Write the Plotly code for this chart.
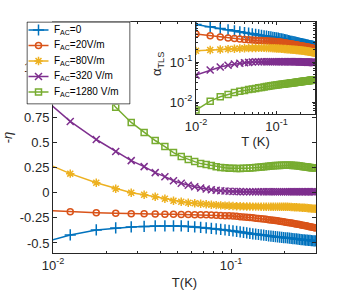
import plotly.graph_objects as go

# ---------------- data ----------------
T_main = [0.0075, 0.0125, 0.0175, 0.0225, 0.0275, 0.0325, 0.0375, 0.0425, 0.0475, 0.0525,
          0.0575, 0.0625, 0.0675, 0.0725, 0.0775, 0.0825, 0.0875, 0.0925, 0.0975, 0.1025,
          0.1075, 0.1125, 0.1175, 0.1225, 0.1275, 0.1325, 0.1375, 0.1425, 0.1475, 0.1525,
          0.1575, 0.1625, 0.1675, 0.1725, 0.1775, 0.1825, 0.1875, 0.1925, 0.1975, 0.2025,
          0.2075, 0.2125, 0.2175, 0.2225, 0.2275, 0.2325, 0.2375, 0.2425, 0.2475, 0.2525,
          0.2575, 0.2625, 0.2675, 0.2725, 0.2775, 0.2825, 0.2875, 0.2925, 0.2975]

eta_F0 = [-0.53, -0.42, -0.37, -0.35, -0.34, -0.335, -0.33, -0.33, -0.33, -0.33,
          -0.335, -0.34, -0.345, -0.35, -0.355, -0.36, -0.365, -0.37, -0.375, -0.38,
          -0.385, -0.39, -0.395, -0.40, -0.405, -0.41, -0.413, -0.416, -0.42, -0.423,
          -0.426, -0.429, -0.432, -0.435, -0.437, -0.44, -0.442, -0.444, -0.446, -0.448,
          -0.45, -0.452, -0.454, -0.456, -0.458, -0.46, -0.462, -0.464, -0.466, -0.468,
          -0.47, -0.471, -0.472, -0.474, -0.475, -0.476, -0.478, -0.479, -0.48]
eta_F20 = [-0.17, -0.19, -0.20, -0.205, -0.21, -0.21, -0.212, -0.214, -0.215, -0.216,
           -0.217, -0.218, -0.219, -0.22, -0.222, -0.224, -0.226, -0.228, -0.23, -0.232,
           -0.235, -0.238, -0.241, -0.244, -0.247, -0.25, -0.253, -0.256, -0.259, -0.262,
           -0.265, -0.268, -0.271, -0.274, -0.277, -0.28, -0.283, -0.286, -0.29, -0.293,
           -0.296, -0.299, -0.302, -0.305, -0.308, -0.311, -0.314, -0.317, -0.32, -0.323,
           -0.326, -0.329, -0.332, -0.335, -0.338, -0.341, -0.344, -0.347, -0.35]
eta_F80 = [0.36, 0.19, 0.10, 0.04, 0.0, -0.02, -0.04, -0.06, -0.08, -0.09,
           -0.10, -0.105, -0.11, -0.115, -0.12, -0.123, -0.126, -0.128, -0.13, -0.132,
           -0.134, -0.135, -0.136, -0.137, -0.137, -0.138, -0.138, -0.138, -0.139, -0.139,
           -0.139, -0.139, -0.14, -0.14, -0.14, -0.14, -0.14, -0.14, -0.14, -0.14,
           -0.14, -0.141, -0.142, -0.143, -0.144, -0.145, -0.146, -0.147, -0.148, -0.149,
           -0.15, -0.151, -0.152, -0.154, -0.155, -0.157, -0.158, -0.159, -0.16]
eta_F320 = [1.05, 0.71, 0.53, 0.41, 0.32, 0.26, 0.20, 0.16, 0.12, 0.095,
            0.075, 0.06, 0.048, 0.038, 0.03, 0.025, 0.02, 0.017, 0.015, 0.013,
            0.012, 0.011, 0.01, 0.01, 0.01, 0.01, 0.01, 0.01, 0.01, 0.01,
            0.01, 0.01, 0.01, 0.01, 0.01, 0.01, 0.01, 0.01, 0.01, 0.01,
            0.01, 0.01, 0.01, 0.01, 0.01, 0.01, 0.01, 0.01, 0.01, 0.01,
            0.01, 0.01, 0.01, 0.01, 0.01, 0.01, 0.01, 0.01, 0.01]
eta_F1280 = [2.5, 1.6, 1.1, 0.85, 0.70, 0.60, 0.52, 0.46, 0.40, 0.36,
             0.33, 0.31, 0.29, 0.28, 0.27, 0.26, 0.252, 0.248, 0.245, 0.243,
             0.242, 0.242, 0.243, 0.245, 0.247, 0.25, 0.252, 0.255, 0.257, 0.26,
             0.262, 0.264, 0.266, 0.268, 0.27, 0.271, 0.272, 0.273, 0.274, 0.274,
             0.274, 0.274, 0.273, 0.272, 0.271, 0.27, 0.268, 0.266, 0.264, 0.262,
             0.26, 0.258, 0.256, 0.254, 0.252, 0.25, 0.249, 0.248, 0.247]

T_inset = [0.01, 0.015, 0.02, 0.025, 0.03, 0.035, 0.04, 0.045, 0.05, 0.055,
           0.06, 0.065, 0.07, 0.075, 0.08, 0.085, 0.09, 0.095, 0.1, 0.105,
           0.11, 0.115, 0.12, 0.125, 0.13, 0.135, 0.14, 0.145, 0.15, 0.155,
           0.16, 0.165, 0.17, 0.175, 0.18, 0.185, 0.19, 0.195, 0.2, 0.205,
           0.21, 0.215, 0.22, 0.225, 0.23, 0.235, 0.24, 0.245, 0.25, 0.255,
           0.26, 0.265, 0.27, 0.275, 0.28, 0.285, 0.29, 0.295, 0.3]

alpha_F0 = [0.87, 0.76, 0.69, 0.64, 0.60, 0.57, 0.545, 0.525, 0.505, 0.49,
            0.475, 0.463, 0.452, 0.442, 0.433, 0.424, 0.416, 0.408, 0.40, 0.393,
            0.386, 0.379, 0.372, 0.365, 0.358, 0.351, 0.344, 0.337, 0.33, 0.326,
            0.322, 0.318, 0.314, 0.31, 0.306, 0.302, 0.298, 0.294, 0.29, 0.287,
            0.284, 0.281, 0.278, 0.275, 0.272, 0.269, 0.266, 0.263, 0.26, 0.258,
            0.256, 0.254, 0.252, 0.25, 0.248, 0.246, 0.244, 0.242, 0.24]
alpha_F20 = [0.50, 0.45, 0.42, 0.40, 0.385, 0.375, 0.367, 0.36, 0.355, 0.35,
             0.347, 0.344, 0.341, 0.338, 0.335, 0.332, 0.329, 0.326, 0.323, 0.319,
             0.315, 0.311, 0.307, 0.303, 0.299, 0.295, 0.291, 0.287, 0.283, 0.28,
             0.277, 0.274, 0.271, 0.268, 0.265, 0.262, 0.259, 0.256, 0.253, 0.251,
             0.249, 0.247, 0.245, 0.243, 0.241, 0.239, 0.237, 0.235, 0.233, 0.231,
             0.229, 0.227, 0.225, 0.223, 0.221, 0.219, 0.217, 0.215, 0.213]
alpha_F80 = [0.19, 0.20, 0.205, 0.21, 0.215, 0.218, 0.22, 0.222, 0.223, 0.224,
             0.225, 0.225, 0.225, 0.224, 0.223, 0.222, 0.221, 0.22, 0.218, 0.217,
             0.216, 0.214, 0.213, 0.212, 0.211, 0.209, 0.208, 0.207, 0.205, 0.204,
             0.203, 0.202, 0.201, 0.2, 0.199, 0.198, 0.197, 0.196, 0.195, 0.194,
             0.193, 0.192, 0.19, 0.189, 0.188, 0.187, 0.186, 0.184, 0.183, 0.182,
             0.181, 0.179, 0.178, 0.177, 0.176, 0.174, 0.173, 0.172, 0.17]
alpha_F320 = [0.047, 0.063, 0.075, 0.083, 0.089, 0.093, 0.096, 0.098, 0.1, 0.101,
              0.102, 0.102, 0.102, 0.102, 0.102, 0.102, 0.102, 0.102, 0.102, 0.102,
              0.102, 0.102, 0.102, 0.102, 0.102, 0.102, 0.101, 0.101, 0.101, 0.101,
              0.101, 0.101, 0.101, 0.101, 0.101, 0.101, 0.1, 0.1, 0.1, 0.1,
              0.1, 0.1, 0.1, 0.1, 0.1, 0.1, 0.099, 0.099, 0.099, 0.099,
              0.099, 0.099, 0.099, 0.098, 0.098, 0.098, 0.098, 0.098, 0.098]
alpha_F1280 = [0.0063, 0.0105, 0.0135, 0.0155, 0.0172, 0.0185, 0.0195, 0.0204, 0.0212, 0.0219,
               0.0226, 0.0232, 0.0238, 0.0244, 0.0249, 0.0254, 0.0259, 0.0263, 0.0267, 0.027,
               0.0273, 0.0276, 0.0279, 0.0282, 0.0285, 0.0288, 0.0291, 0.0294, 0.0297, 0.03,
               0.0302, 0.0305, 0.0307, 0.031, 0.0312, 0.0315, 0.0317, 0.032, 0.0322, 0.0324,
               0.0326, 0.0328, 0.033, 0.0332, 0.0334, 0.0336, 0.0338, 0.034, 0.0342, 0.0344,
               0.0346, 0.0348, 0.035, 0.0352, 0.0354, 0.0356, 0.0358, 0.036, 0.0362]

series_names = ["F<sub>AC</sub>=0", "F<sub>AC</sub>=20V/m", "F<sub>AC</sub>=80V/m",
                "F<sub>AC</sub>=320 V/m", "F<sub>AC</sub>=1280 V/m"]
main_values = [eta_F0, eta_F20, eta_F80, eta_F320, eta_F1280]
inset_values = [alpha_F0, alpha_F20, alpha_F80, alpha_F320, alpha_F1280]

main_yticks = [-0.5, -0.25, 0, 0.25, 0.5, 0.75, 1, 1.25, 1.5]
main_yticktext = ["-0.5", "-0.25", "0", "0.25", "0.5", "0.75", "1", "1.25", "1.5"]
log_ticks = [0.01, 0.1]
log_ticktext = ["10<sup>-2</sup>", "10<sup>-1</sup>"]
inset_yticks = [0.01, 0.1]
inset_yticktext = ["10<sup>-2</sup>", "10<sup>-1</sup>"]

# ---------------- styles / layout constants ----------------
W, H = 348, 291
colors = ["#0072BD", "#D95319", "#EDB120", "#7E2F8E", "#77AC30"]
symbols = ["cross-thin", "circle-open", "asterisk", "x-thin", "square-open"]
sizes = [8, 6, 7, 7, 6]
FONT = "Liberation Sans, Arial, Helvetica, sans-serif"
AX = "#262626"


def px_x(a, b):
    return [a / W, b / W]


def px_y(top, bottom):
    return [(H - bottom) / H, (H - top) / H]


# legend box geometry (pixel frame of the legend panel)
LEG_W, LEG_H = 103, 82
leg_rows = [8, 23.5, 39, 54.5, 70]
leg_line = [1.5, 21.5]
leg_mark = 11.5
leg_text_x = 25

fig = go.Figure()
for name, yv, c, s, sz in zip(series_names, main_values, colors, symbols, sizes):
    fig.add_trace(go.Scatter(
        x=T_main, y=yv, mode="lines+markers", name=name, showlegend=False,
        line=dict(color=c, width=1.5),
        marker=dict(symbol=s, size=sz, color=c, line=dict(color=c, width=1.5)),
        xaxis="x", yaxis="y"))
for name, yv, c, s, sz in zip(series_names, inset_values, colors, symbols, sizes):
    fig.add_trace(go.Scatter(
        x=T_inset, y=yv, mode="lines+markers", name=name, showlegend=False,
        line=dict(color=c, width=1.5),
        marker=dict(symbol=s, size=sz, color=c, line=dict(color=c, width=1.5)),
        xaxis="x2", yaxis="y2"))

# legend panel (white box with border, drawn above the main plot)
fig.add_trace(go.Scatter(
    x=[0, LEG_W, LEG_W, 0, 0], y=[0, 0, LEG_H, LEG_H, 0], mode="lines",
    fill="toself", fillcolor="white", line=dict(color=AX, width=1),
    showlegend=False, hoverinfo="skip", xaxis="x3", yaxis="y3"))
for name, c, s, sz, ry in zip(series_names, colors, symbols, sizes, leg_rows):
    fig.add_trace(go.Scatter(
        x=leg_line, y=[ry, ry], mode="lines", line=dict(color=c, width=1.5),
        showlegend=False, hoverinfo="skip", xaxis="x3", yaxis="y3"))
    fig.add_trace(go.Scatter(
        x=[leg_mark], y=[ry], mode="markers",
        marker=dict(symbol=s, size=sz, color=c, line=dict(color=c, width=1.5)),
        showlegend=False, hoverinfo="skip", xaxis="x3", yaxis="y3"))
    fig.add_annotation(x=leg_text_x, y=ry, xref="x3", yref="y3", text=name,
                       showarrow=False, xanchor="left", yanchor="middle",
                       font=dict(family=FONT, size=10, color="black"))

# inset y-axis title (placed explicitly)
fig.add_annotation(x=157 / W, y=(H - 64) / H, xref="paper", yref="paper",
                   text="α<sub>TLS</sub>", textangle=-90, showarrow=False,
                   xanchor="center", yanchor="middle",
                   font=dict(family=FONT, size=13, color=AX))

minor_main = [0.02, 0.03, 0.04, 0.05, 0.06, 0.07, 0.08, 0.09, 0.2, 0.3]
minor_inset_y = [0.006, 0.007, 0.008, 0.009, 0.02, 0.03, 0.04, 0.05, 0.06, 0.07,
                 0.08, 0.09, 0.2, 0.3, 0.4, 0.5, 0.6, 0.7, 0.8, 0.9]

axis_common = dict(showline=True, linecolor=AX, linewidth=1, mirror="ticks",
                   ticks="inside", tickcolor=AX, showgrid=False, zeroline=False,
                   automargin=False)

fig.update_layout(
    width=W, height=H,
    margin=dict(l=0, r=0, t=0, b=0),
    paper_bgcolor="white", plot_bgcolor="white",
    font=dict(family=FONT, size=13, color=AX),
    showlegend=False,
    xaxis=dict(domain=px_x(53, 316), type="log", range=[-2, -0.5229],
               tickmode="array", tickvals=log_ticks, ticktext=log_ticktext,
               ticklen=4, tickfont=dict(family=FONT, size=13, color=AX),
               minor=dict(tickmode="array", tickvals=minor_main, ticks="inside",
                          ticklen=2, tickcolor=AX),
               title=dict(text="T(K)", font=dict(family=FONT, size=13, color=AX), standoff=6),
               anchor="y", **axis_common),
    yaxis=dict(domain=px_y(22, 253), range=[-0.6, 1.7],
               tickmode="array", tickvals=main_yticks, ticktext=main_yticktext,
               ticklen=4, tickfont=dict(family=FONT, size=13, color=AX),
               title=dict(text="-<i>η</i>", font=dict(family=FONT, size=13, color=AX), standoff=8),
               anchor="x", **axis_common),
    xaxis2=dict(domain=px_x(196, 315), type="log", range=[-2, -0.5229],
                tickmode="array", tickvals=log_ticks, ticktext=log_ticktext,
                ticklen=3, tickfont=dict(family=FONT, size=13, color=AX),
                minor=dict(tickmode="array", tickvals=minor_main, ticks="inside",
                           ticklen=2, tickcolor=AX),
                title=dict(text="T (K)", font=dict(family=FONT, size=13, color=AX), standoff=1),
                anchor="y2", **axis_common),
    yaxis2=dict(domain=px_y(22, 114), type="log", range=[-2.3, 0],
                tickmode="array", tickvals=inset_yticks, ticktext=inset_yticktext,
                ticklen=3, tickfont=dict(family=FONT, size=13, color=AX),
                minor=dict(tickmode="array", tickvals=minor_inset_y,
                           ticks="inside", ticklen=2, tickcolor=AX),
                anchor="x2", **axis_common),
    xaxis3=dict(domain=px_x(26.5, 130.5), range=[-0.5, LEG_W + 0.5], visible=False,
                fixedrange=True, anchor="y3"),
    yaxis3=dict(domain=px_y(21.5, 104.5), range=[LEG_H + 0.5, -0.5], visible=False,
                fixedrange=True, anchor="x3"),
)

fig.write_html("out.html", config={"displayModeBar": False},
               post_script="document.body.style.margin='0';")
